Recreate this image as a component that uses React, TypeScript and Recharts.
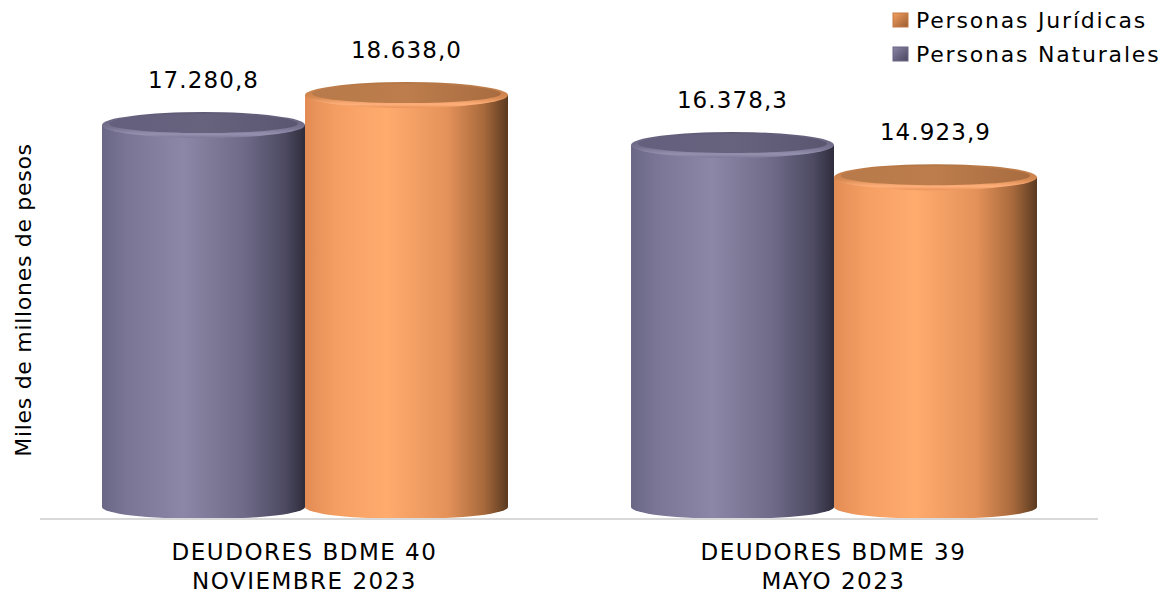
import React from 'react';
import { BarChart, Bar, XAxis, YAxis, LabelList, Customized } from 'recharts';

const categories = ['DEUDORES BDME 40|NOVIEMBRE 2023', 'DEUDORES BDME 39|MAYO 2023'];
const naturales = [17280.8, 16378.3];
const juridicas = [18638.0, 14923.9];
const seriesNames = { nat: 'Personas Naturales', jur: 'Personas Jurídicas' };
const yLabel = 'Miles de millones de pesos';

const data = categories.map((c, i) => ({ cat: c, nat: naturales[i], jur: juridicas[i] }));

const FONT = 'Verdana, "DejaVu Sans", sans-serif';
const RY = 12;

const fmt = (v: number) => {
  const [int, dec] = v.toFixed(1).split('.');
  return int.replace(/\B(?=(\d{3})+(?!\d))/g, '.') + ',' + dec;
};

const makeCylinder = (key: string) => (props: any) => {
  const { x, y, width, height } = props;
  const cx = x + width / 2;
  const rx = width / 2;
  const bottom = y + height;
  const body = `M${x},${y} L${x},${bottom} A${rx},${RY} 0 0 0 ${x + width},${bottom} L${x + width},${y} Z`;
  return (
    <g>
      <path d={body} fill={`url(#body-${key})`} />
      <ellipse cx={cx} cy={y} rx={rx} ry={RY + 1} fill={`url(#rim-${key})`} />
      <ellipse cx={cx} cy={y - 1.5} rx={rx - 7} ry={RY - 2.5} fill={`url(#top-${key})`} />
    </g>
  );
};

const Defs = () => (
  <defs>
    <linearGradient id="body-nat" x1="0" y1="0" x2="1" y2="0">
      <stop offset="0" stopColor="#6a6686" />
      <stop offset="0.12" stopColor="#7a7595" />
      <stop offset="0.4" stopColor="#8c87a6" />
      <stop offset="0.7" stopColor="#6e6a88" />
      <stop offset="0.9" stopColor="#4d4a62" />
      <stop offset="1" stopColor="#2f2d3c" />
    </linearGradient>
    <linearGradient id="rim-nat" x1="0" y1="0" x2="0" y2="1">
      <stop offset="0" stopColor="#5e5a76" />
      <stop offset="0.6" stopColor="#77728f" />
      <stop offset="0.85" stopColor="#9590ad" />
      <stop offset="1" stopColor="#7d7897" />
    </linearGradient>
    <linearGradient id="top-nat" x1="0" y1="0" x2="1" y2="0">
      <stop offset="0" stopColor="#635f7c" />
      <stop offset="0.5" stopColor="#67637f" />
      <stop offset="1" stopColor="#5a5670" />
    </linearGradient>
    <linearGradient id="body-jur" x1="0" y1="0" x2="1" y2="0">
      <stop offset="0" stopColor="#e28c55" />
      <stop offset="0.15" stopColor="#f59e63" />
      <stop offset="0.4" stopColor="#ffab6e" />
      <stop offset="0.7" stopColor="#e5925a" />
      <stop offset="0.88" stopColor="#a86a3c" />
      <stop offset="1" stopColor="#5a3a20" />
    </linearGradient>
    <linearGradient id="rim-jur" x1="0" y1="0" x2="0" y2="1">
      <stop offset="0" stopColor="#b27545" />
      <stop offset="0.6" stopColor="#d88a52" />
      <stop offset="0.85" stopColor="#ffb07a" />
      <stop offset="1" stopColor="#e8935a" />
    </linearGradient>
    <linearGradient id="top-jur" x1="0" y1="0" x2="1" y2="0">
      <stop offset="0" stopColor="#b87a4a" />
      <stop offset="0.5" stopColor="#bd7d4c" />
      <stop offset="1" stopColor="#a86c40" />
    </linearGradient>
    <linearGradient id="leg-jur" x1="0" y1="0" x2="1" y2="1">
      <stop offset="0" stopColor="#f5a060" />
      <stop offset="1" stopColor="#9a5c30" />
    </linearGradient>
    <linearGradient id="leg-nat" x1="0" y1="0" x2="1" y2="1">
      <stop offset="0" stopColor="#8a85a5" />
      <stop offset="1" stopColor="#4a4760" />
    </linearGradient>
  </defs>
);

const Extras = () => (
  <g>
    <Defs />
    <text
      transform="translate(31,300) rotate(-90)"
      textAnchor="middle"
      fontFamily={FONT}
      fontSize={22}
      letterSpacing={0.7}
      fill="#000"
    >
      {yLabel}
    </text>
    <g fontFamily={FONT} fontSize={22} letterSpacing={1.8} fill="#000">
      <rect x={893} y={13} width={15} height={14} fill="url(#leg-jur)" stroke="#c47a44" strokeWidth={1} />
      <text x={916} y={28}>{seriesNames.jur}</text>
      <rect x={893} y={47} width={15} height={14} fill="url(#leg-nat)" stroke="#6a6686" strokeWidth={1} />
      <text x={916} y={62}>{seriesNames.nat}</text>
    </g>
  </g>
);

const Tick = (props: any) => {
  const { x, y, payload } = props;
  const lines = String(payload.value).split('|');
  return (
    <text x={x} y={y} textAnchor="middle" fontFamily={FONT} fontSize={23} letterSpacing={1.5} fill="#000">
      {lines.map((l, i) => (
        <tspan key={i} x={x} dy={i === 0 ? 33 : 29}>
          {l}
        </tspan>
      ))}
    </text>
  );
};

const ValueLabel = (props: any) => {
  const { x, y, width, value } = props;
  return (
    <text
      x={x + width / 2}
      y={y - 37}
      textAnchor="middle"
      fontFamily={FONT}
      fontSize={23}
      letterSpacing={1.1}
      fill="#000"
    >
      {fmt(value)}
    </text>
  );
};

export default function App() {
  return (
    <div style={{ position: 'absolute', left: 0, top: 0, background: '#fff' }}>
      <BarChart
        width={1167}
        height={599}
        data={data}
        margin={{ top: 65, right: 69, bottom: 10, left: 40 }}
        barGap={0}
        barSize={203}
      >
        <Customized component={Extras} />
        <YAxis hide domain={[-543, 20000]} />
        <XAxis
          dataKey="cat"
          axisLine={{ stroke: '#d9d9d9', strokeWidth: 2 }}
          tickLine={false}
          tick={<Tick />}
          height={70}
          interval={0}
        />
        <Bar dataKey="nat" name={seriesNames.nat} shape={makeCylinder('nat')} isAnimationActive={false}>
          <LabelList dataKey="nat" content={<ValueLabel />} />
        </Bar>
        <Bar dataKey="jur" name={seriesNames.jur} shape={makeCylinder('jur')} isAnimationActive={false}>
          <LabelList dataKey="jur" content={<ValueLabel />} />
        </Bar>
      </BarChart>
    </div>
  );
}
